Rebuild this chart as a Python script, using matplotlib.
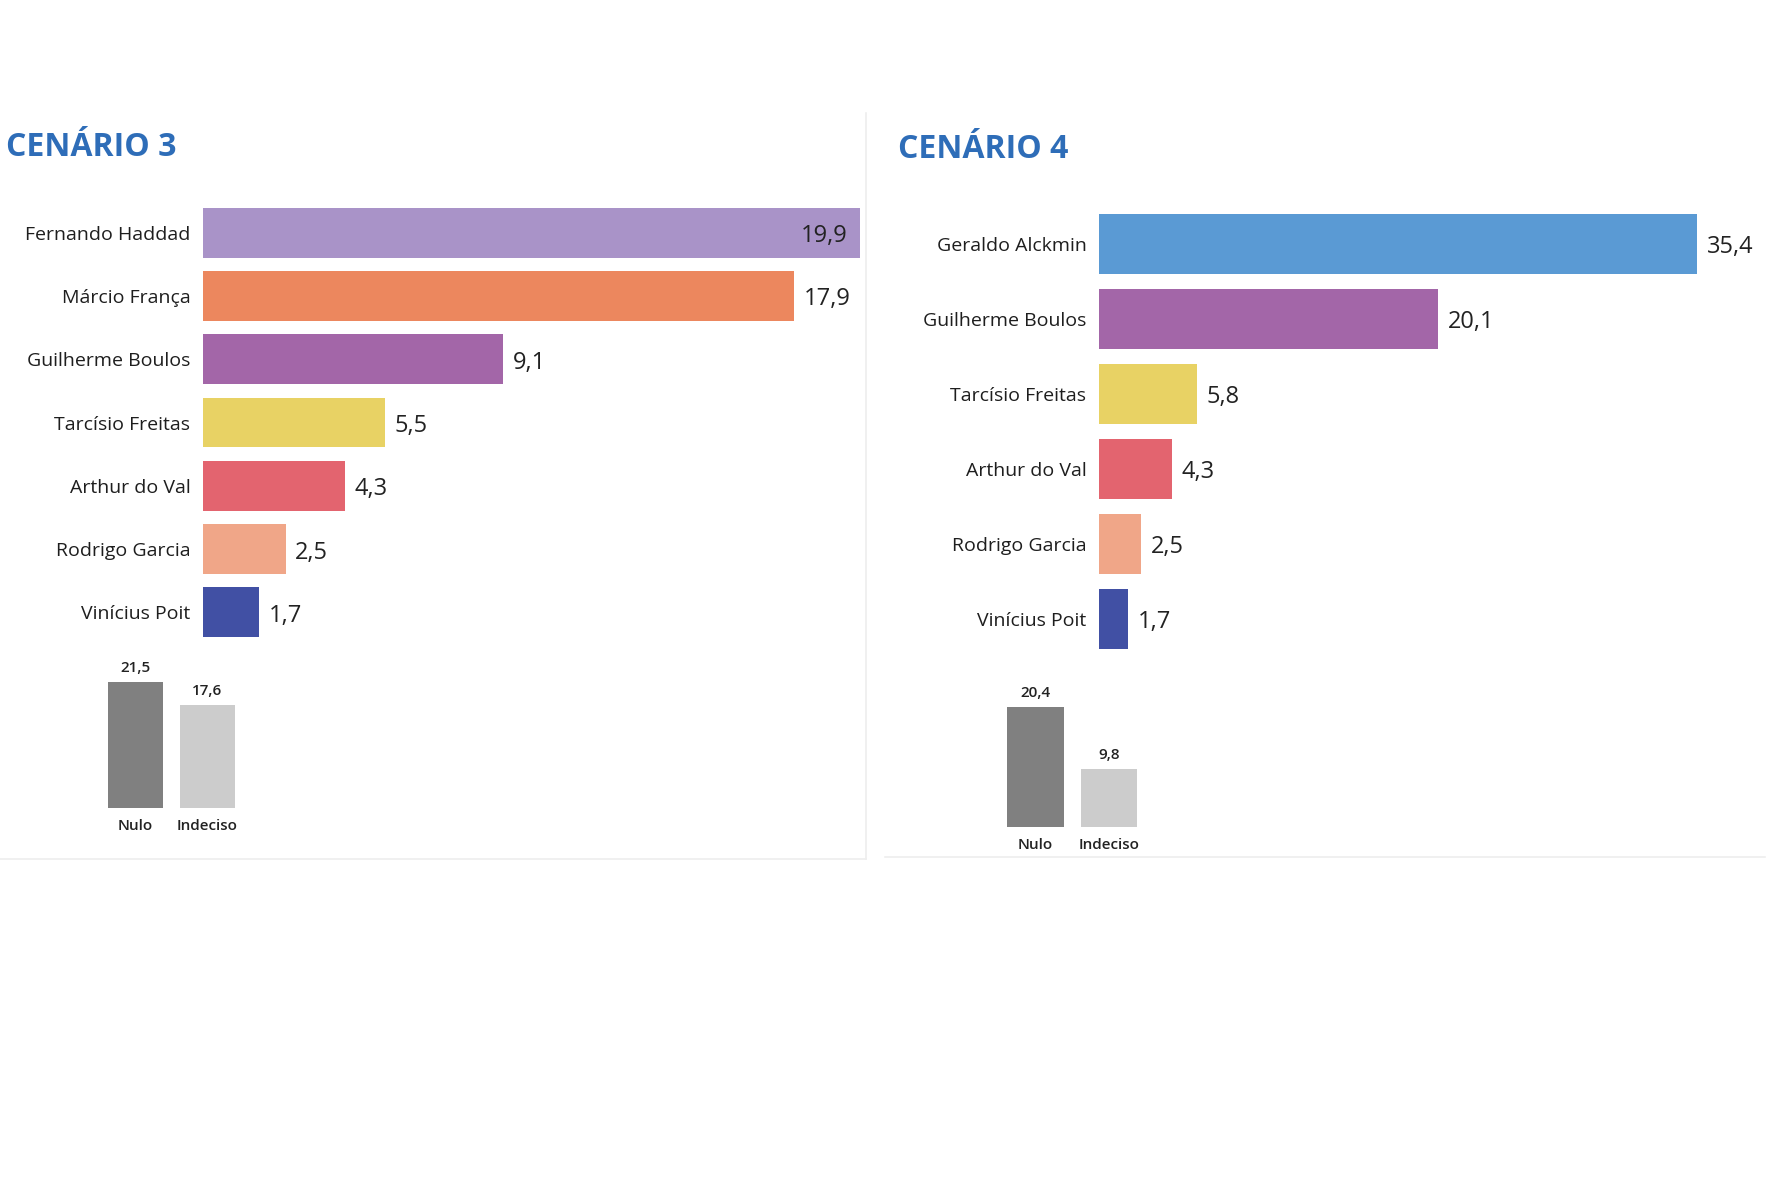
import matplotlib
matplotlib.use("Agg")
import matplotlib.pyplot as plt
from matplotlib.lines import Line2D

W, H = 1780, 1186

# ---- data ----
c3_names = ["Fernando Haddad", "Márcio França", "Guilherme Boulos", "Tarcísio Freitas",
            "Arthur do Val", "Rodrigo Garcia", "Vinícius Poit"]
c3_values = [19.9, 17.9, 9.1, 5.5, 4.3, 2.5, 1.7]
c3_colors = ["#A993C8", "#EC875E", "#A366A8", "#E8D264", "#E3646F", "#F0A688", "#4150A4"]

c4_names = ["Geraldo Alckmin", "Guilherme Boulos", "Tarcísio Freitas",
            "Arthur do Val", "Rodrigo Garcia", "Vinícius Poit"]
c4_values = [35.4, 20.1, 5.8, 4.3, 2.5, 1.7]
c4_colors = ["#5A9AD4", "#A366A8", "#E8D264", "#E3646F", "#F0A688", "#4150A4"]

other_labels = ["Nulo", "Indeciso"]
c3_other = [21.5, 17.6]
c4_other = [20.4, 9.8]
other_colors = ["#808080", "#CCCCCC"]

titles = ["CENÁRIO 3", "CENÁRIO 4"]

FONT = ["Open Sans", "DejaVu Sans"]
plt.rcParams['font.family'] = FONT

fig = plt.figure(figsize=(W / 100, H / 100), dpi=100)
fig.patch.set_facecolor("white")


def ax_px(x0, y0, x1, y1):
    return fig.add_axes([x0 / W, 1 - y1 / H, (x1 - x0) / W, (y1 - y0) / H])


def fmt(v):
    return f"{v:.1f}".replace(".", ",")


def hbar_panel(ax, names, values, colors, xmax, inside_first=False):
    ypos = list(range(len(names)))
    ax.barh(ypos, values, height=0.79, color=colors)
    ax.set_xlim(0, xmax)
    ax.set_ylim(len(names) - 0.5, -0.5)
    ax.set_yticks(ypos)
    ax.set_yticklabels(names, fontsize=14, color="#1E1E1E", fontweight="medium")
    ax.tick_params(axis="y", length=0, pad=9)
    ax.set_xticks([])
    for s in ax.spines.values():
        s.set_visible(False)
    ax.patch.set_alpha(0)
    for i, v in enumerate(values):
        if inside_first and i == 0:
            ax.annotate(fmt(v), (v, i), xytext=(-9, -2.5), textcoords="offset points",
                        ha="right", va="center", fontsize=17, color="#222222")
        else:
            ax.annotate(fmt(v), (v, i), xytext=(7, -2.5), textcoords="offset points",
                        ha="left", va="center", fontsize=17, color="#222222")


def small_panel(ax, values):
    x = [0, 1]
    ax.bar(x, values, width=0.77, color=other_colors)
    ax.set_xlim(-0.5, 1.5)
    ax.set_ylim(0, 25)
    ax.set_xticks(x)
    ax.set_xticklabels(other_labels, fontsize=11, color="#222222", fontweight="semibold")
    ax.tick_params(axis="x", length=0, pad=8)
    ax.set_yticks([])
    for s in ax.spines.values():
        s.set_visible(False)
    ax.patch.set_alpha(0)
    for i, v in zip(x, values):
        ax.annotate(fmt(v), (i, v), xytext=(0, 5), textcoords="offset points",
                    ha="center", va="bottom", fontsize=11, color="#222222",
                    fontweight="semibold")


# Cenário 3
ax1 = ax_px(203, 201, 863, 644)
hbar_panel(ax1, c3_names, c3_values, c3_colors, 20, inside_first=True)
ax1s = ax_px(99.5, 661.5, 243.5, 808)
small_panel(ax1s, c3_other)

# Cenário 4
ax2 = ax_px(1099, 206.5, 1707, 656.5)
hbar_panel(ax2, c4_names, c4_values, c4_colors, 36)
ax2s = ax_px(998.75, 680, 1145.75, 827)
small_panel(ax2s, c4_other)

# titles
fig.text(6 / W, 1 - 148 / H, titles[0], fontsize=23, fontweight="bold",
         color="#2E6DB8", ha="left", va="center")
fig.text(898 / W, 1 - 149 / H, titles[1], fontsize=23, fontweight="bold",
         color="#2E6DB8", ha="left", va="center")

# faint panel separators
fig.add_artist(Line2D([866 / W, 866 / W], [1 - 113 / H, 1 - 859 / H],
                      color="#EEEEEE", lw=1.2))
fig.add_artist(Line2D([0, 866 / W], [1 - 859 / H, 1 - 859 / H], color="#EEEEEE", lw=1.2))
fig.add_artist(Line2D([885 / W, 1765 / W], [1 - 857 / H, 1 - 857 / H], color="#EEEEEE", lw=1.2))

fig.savefig("out.png", dpi=100, facecolor="white")
